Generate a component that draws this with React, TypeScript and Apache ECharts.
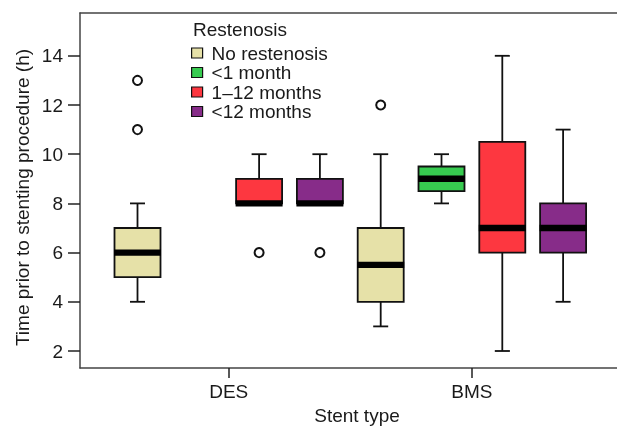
import React, { useEffect, useRef } from "react";
import * as echarts from "echarts";

// ---- Data ----
const stentTypes = ["DES", "BMS"];
const restenosisGroups = ["No restenosis", "<1 month", "1–12 months", "<12 months"];
const groupColors = ["#E6E1A8", "#37CB50", "#FD3740", "#872C89"];

// [min, Q1, median, Q3, max] per stent type (null = no box)
const noRestenosisBoxes: (number[] | null)[] = [[4, 5, 6, 7, 8], [3, 4, 5.5, 7, 10]];
const lessThan1MonthBoxes: (number[] | null)[] = [null, [8, 8.5, 9, 9.5, 10]];
const oneTo12MonthsBoxes: (number[] | null)[] = [[8, 8, 8, 9, 10], [2, 6, 7, 10.5, 14]];
const over12MonthsBoxes: (number[] | null)[] = [[8, 8, 8, 9, 10], [4, 6, 7, 8, 11]];

// outliers per stent type
const noRestenosisOutliers = [[11, 13], [12]];
const lessThan1MonthOutliers = [[], []];
const oneTo12MonthsOutliers = [[6], []];
const over12MonthsOutliers = [[6], []];

const yTicks = [2, 4, 6, 8, 10, 12, 14];
const yTitle = "Time prior to stenting procedure (h)";
const xTitle = "Stent type";
const legendTitle = "Restenosis";

const allBoxes = [noRestenosisBoxes, lessThan1MonthBoxes, oneTo12MonthsBoxes, over12MonthsBoxes];
const allOutliers = [noRestenosisOutliers, lessThan1MonthOutliers, oneTo12MonthsOutliers, over12MonthsOutliers];

const FONT = "'Liberation Sans', Arial, Helvetica, sans-serif";
const TEXT = "#1a1a1a";
const FS = 19;
const AXIS_LINE = { color: "#444", width: 1.5 };

export default function App() {
  const ref = useRef<HTMLDivElement>(null);

  useEffect(() => {
    if (!ref.current) return;
    const chart = echarts.init(ref.current, undefined, { renderer: "svg" });

    const nGroups = restenosisGroups.length;
    const slot = (si: number, gi: number) => si * nGroups + gi;

    const boxSeries = restenosisGroups.map((name, gi) => {
      const data: number[][] = [];
      stentTypes.forEach((_, si) => {
        const b = allBoxes[gi][si];
        if (b) data.push([slot(si, gi), ...b]);
      });
      const color = groupColors[gi];
      return {
        type: "custom",
        name,
        itemStyle: { color },
        encode: { x: 0, y: [1, 2, 3, 4, 5] },
        data,
        z: 2,
        renderItem: (params: any, api: any) => {
          const x = api.value(0);
          const p = [1, 2, 3, 4, 5].map((d) => api.coord([x, api.value(d)]));
          const cx = p[0][0];
          const [yMin, yQ1, yMed, yQ3, yMax] = p.map((q) => q[1]);
          const half = 23;
          const cap = 7.5;
          const stroke = { stroke: "#111", lineWidth: 1.8 };
          return {
            type: "group",
            children: [
              { type: "line", shape: { x1: cx, y1: yMax, x2: cx, y2: yQ3 }, style: stroke },
              { type: "line", shape: { x1: cx, y1: yQ1, x2: cx, y2: yMin }, style: stroke },
              { type: "line", shape: { x1: cx - cap, y1: yMax, x2: cx + cap, y2: yMax }, style: stroke },
              { type: "line", shape: { x1: cx - cap, y1: yMin, x2: cx + cap, y2: yMin }, style: stroke },
              {
                type: "rect",
                shape: { x: cx - half, y: yQ3, width: half * 2, height: yQ1 - yQ3 },
                style: { fill: color, stroke: "#111", lineWidth: 1.8 },
              },
              {
                type: "rect",
                shape: { x: cx - half - 0.5, y: yMed - 3.2, width: half * 2 + 1, height: 6.4 },
                style: { fill: "#000" },
              },
            ],
          };
        },
      };
    });

    const outlierData: number[][] = [];
    allOutliers.forEach((perType, gi) =>
      perType.forEach((vals, si) => vals.forEach((v) => outlierData.push([slot(si, gi), v])))
    );

    const pxPerSlot = 60.8;
    const gridLeft = 80;
    const gridWidth = 554;
    const firstCenter = 137.5;
    const xMin = -(firstCenter - gridLeft) / pxPerSlot;
    const xMax = xMin + gridWidth / pxPerSlot;

    const gridTop = 13;
    const gridHeight = 355;
    const pxPerUnit = 24.6;
    const yMinV = 2 - (gridTop + gridHeight - 351) / pxPerUnit;
    const yMaxV = yMinV + gridHeight / pxPerUnit;

    const groupCenters = stentTypes.map((_, si) => slot(si, (nGroups - 1) / 2));

    chart.setOption({
      animation: false,
      textStyle: { fontFamily: FONT },
      grid: {
        left: gridLeft,
        top: gridTop,
        width: gridWidth,
        height: gridHeight,
        show: false,
        outerBoundsMode: "none",
        containLabel: false,
      },
      xAxis: [
        {
          type: "value",
          min: xMin,
          max: xMax,
          splitLine: { show: false },
          axisLine: { show: true, onZero: false, lineStyle: AXIS_LINE },
          axisTick: { show: true, customValues: groupCenters, length: 10, lineStyle: { color: "#222", width: 1.5 } },
          axisLabel: {
            customValues: groupCenters,
            formatter: (v: number) => {
              const i = groupCenters.findIndex((c) => Math.abs(c - v) < 1e-6);
              return i >= 0 ? stentTypes[i] : "";
            },
            fontSize: FS,
            color: TEXT,
            fontFamily: FONT,
            margin: 14,
          },
          name: xTitle,
          nameLocation: "middle",
          nameGap: 37,
          nameTextStyle: { fontSize: FS, color: TEXT, fontFamily: FONT },
        },
        {
          type: "value",
          position: "top",
          min: xMin,
          max: xMax,
          splitLine: { show: false },
          axisLine: { show: true, onZero: false, lineStyle: AXIS_LINE },
          axisTick: { show: false },
          axisLabel: { show: false },
        },
      ],
      yAxis: {
        type: "value",
        position: "left",
        min: yMinV,
        max: yMaxV,
        splitLine: { show: false },
        axisLine: { show: true, onZero: false, lineStyle: AXIS_LINE },
        axisTick: { show: true, customValues: yTicks, length: 12, lineStyle: { color: "#222", width: 1.5 } },
        axisLabel: {
          customValues: yTicks,
          fontSize: FS,
          color: TEXT,
          fontFamily: FONT,
          margin: 17,
        },
      },
      legend: {
        data: restenosisGroups,
        orient: "vertical",
        left: 191,
        top: 43.5,
        padding: 0,
        itemGap: 0.5,
        itemWidth: 11,
        itemHeight: 10,
        icon: "rect",
        itemStyle: { borderColor: "#111", borderWidth: 1.2 },
        textStyle: { fontSize: FS, color: TEXT, fontFamily: FONT, padding: [0, 0, 0, 4] },
        selectedMode: false,
      },
      graphic: [
        {
          type: "text",
          left: 193,
          top: 20,
          style: { text: legendTitle, fontSize: FS, fill: TEXT, fontFamily: FONT },
        },
        {
          type: "text",
          x: 22,
          y: 197.5,
          rotation: Math.PI / 2,
          style: {
            text: yTitle,
            fontSize: FS,
            fill: TEXT,
            fontFamily: FONT,
            align: "center",
            verticalAlign: "middle",
          },
        },
      ],
      series: [
        ...boxSeries,
        {
          type: "scatter",
          name: "outliers",
          data: outlierData,
          symbol: "circle",
          symbolSize: 9,
          itemStyle: { color: "#fff", borderColor: "#111", borderWidth: 2, opacity: 1 },
          z: 3,
        },
      ],
    });

    return () => chart.dispose();
  }, []);

  return (
    <div
      ref={ref}
      style={{ position: "fixed", left: 0, top: 0, width: 617, height: 427 }}
    />
  );
}
